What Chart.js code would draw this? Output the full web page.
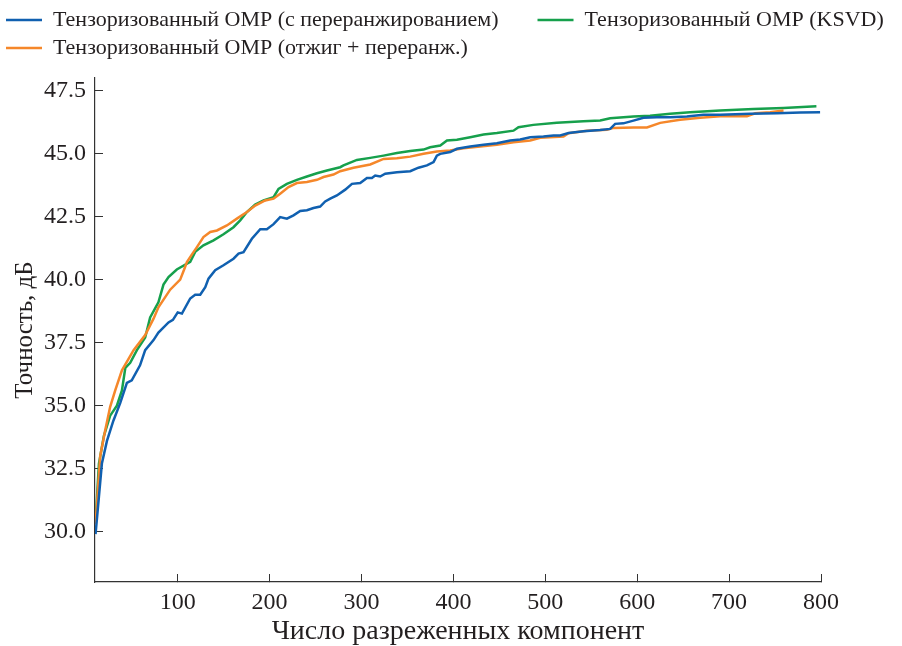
<!DOCTYPE html>
<html>
<head>
<meta charset="utf-8">
<script src="https://cdn.jsdelivr.net/npm/chart.js@4.4.0/dist/chart.umd.min.js"></script>
<style>
  html, body { margin: 0; padding: 0; background: #fff; }
  #wrap { width: 902px; height: 646px; }
</style>
</head>
<body>
<div id="wrap"><canvas id="graph1"></canvas></div>
<script>
// series labels
const seriesNames = [
  'Тензоризованный ОМР (с переранжированием)',
  'Тензоризованный ОМР (отжиг + переранж.)',
  'Тензоризованный ОМР (KSVD)'
];

// values
const rerankX = [10.6, 14.3, 17.5, 23, 30, 37.4, 44.7, 50, 59, 64.6, 73.7, 79, 90, 94.8, 100, 104.6, 113.6, 119, 124.5, 130,
  133.5, 140.8, 149.8, 160.7, 166.2, 171.6, 180.7, 189.8, 197, 204.3, 211.5, 218.8, 226, 233.3, 240.6, 247.8, 255, 260.5, 266,
  273.2, 282.3, 289.6, 298.6, 305.9, 311.3, 314.9, 320.3, 325.8, 338.5, 353, 362, 371.2, 378.4, 382, 385.7, 396.5, 403.8,
  418.3, 432.8, 447.3, 461.8, 472.7, 483.6, 498, 509, 516.2, 525.3, 541.6, 559.7, 570.6, 576, 585, 595.9, 606.8, 621.4,
  635.9, 654, 672, 690.3, 723, 752, 777.7, 799];
const rerankY = [29.9, 31.4, 32.7, 33.6, 34.4, 35.1, 35.9, 36.0, 36.6, 37.2, 37.6, 37.9, 38.3, 38.4, 38.7, 38.65, 39.25, 39.4, 39.4, 39.7,
  40.04, 40.37, 40.57, 40.83, 41.03, 41.09, 41.62, 42.0, 42.0, 42.2, 42.48, 42.42, 42.55, 42.72, 42.75, 42.84, 42.9, 43.1, 43.21,
  43.34, 43.57, 43.8, 43.83, 44.03, 44.03, 44.13, 44.09, 44.2, 44.26, 44.3, 44.44, 44.53, 44.66, 44.92, 44.99, 45.06, 45.19,
  45.28, 45.35, 45.41, 45.52, 45.56, 45.65, 45.68, 45.72, 45.72, 45.82, 45.89, 45.94, 45.98, 46.18, 46.2, 46.31, 46.42, 46.44,
  46.44, 46.47, 46.54, 46.54, 46.58, 46.6, 46.63, 46.64];

const annealX = [10.6, 15.7, 21, 26.5, 32, 39.3, 52, 64.6, 73.7, 79, 91.8, 102.7, 107, 110, 115.5, 120.9, 128, 135.4, 142.7,
  153.5, 164.4, 175.3, 184.3, 195.2, 204.3, 211.5, 220.6, 229.7, 240.6, 251.5, 258.7, 269.5, 276.8, 291.3, 309.5, 324, 338.5,
  353, 367.5, 382, 396.5, 411, 429.2, 447.3, 465.4, 483.6, 494.5, 519.8, 525.3, 545.3, 567, 574.3, 596, 610.6, 625, 646.7,
  668.5, 690.3, 719.4, 728.4, 744.7, 759.2];
const annealY = [30.3, 33.0, 34.0, 34.95, 35.6, 36.4, 37.2, 37.8, 38.45, 38.9, 39.6, 40.0, 40.4, 40.7, 41.0, 41.29, 41.69, 41.89, 41.95,
  42.15, 42.42, 42.68, 42.94, 43.14, 43.21, 43.41, 43.67, 43.83, 43.87, 43.96, 44.07, 44.17, 44.3, 44.44, 44.57, 44.79, 44.82,
  44.88, 44.99, 45.08, 45.12, 45.21, 45.28, 45.35, 45.45, 45.52, 45.63, 45.68, 45.81, 45.91, 45.95, 46.02, 46.04, 46.04, 46.22, 46.34,
  46.42, 46.48, 46.48, 46.6, 46.64, 46.71];

const ksvdX = [10.6, 14.3, 19.7, 26.5, 33.8, 39.3, 43, 48.3, 55.6, 64.6, 70, 79, 84.5, 90, 99, 113.6, 119, 128, 139, 149.8,
  160.7, 168, 175.3, 184.3, 193.4, 204.3, 209.7, 218.8, 229.7, 240.6, 251.5, 262.4, 276.8, 280.4, 295, 309.5, 324, 338.5, 353,
  367.5, 374.7, 385.7, 393, 403.8, 418.3, 432.8, 447.3, 465.4, 470.8, 487, 512.5, 541.5, 559.7, 570.6, 596, 614, 635.9,
  657.6, 690.3, 726.6, 759.2, 795];
const ksvdY = [30.4, 32.7, 33.8, 34.6, 35.0, 35.6, 36.5, 36.7, 37.2, 37.7, 38.5, 39.1, 39.8, 40.1, 40.4, 40.7, 41.1, 41.36, 41.56, 41.8,
  42.08, 42.35, 42.68, 42.98, 43.14, 43.27, 43.6, 43.8, 43.96, 44.09, 44.22, 44.33, 44.46, 44.53, 44.75, 44.83, 44.92, 45.02, 45.1,
  45.16, 45.25, 45.32, 45.52, 45.55, 45.65, 45.76, 45.82, 45.91, 46.05, 46.14, 46.22, 46.28, 46.31, 46.4, 46.47, 46.5, 46.58,
  46.64, 46.71, 46.77, 46.81, 46.88];

// tick labels
const xTicks = [100, 200, 300, 400, 500, 600, 700, 800];
const yTicks = [30.0, 32.5, 35.0, 37.5, 40.0, 42.5, 45.0, 47.5];

const toPoints = (xs, ys) => xs.map((x, i) => ({ x: x, y: ys[i] }));

const serif = '"Liberation Serif", "Times New Roman", serif';
const ink = '#231f20';

// legend is a bit taller in the original (gap under it)
const legendGap = {
  id: 'legendGap',
  beforeUpdate(chart) {
    const lg = chart.legend;
    if (lg && !lg._gapDone) {
      const fit = lg.fit;
      lg.fit = function () { fit.call(this); this.height += 9; };
      lg._gapDone = true;
    }
  }
};

const ctx = document.getElementById('graph1').getContext('2d');

const data = {
  datasets: [
    {
      label: seriesNames[0],
      data: toPoints(rerankX, rerankY),
      borderColor: '#1060b0'
    },
    {
      label: seriesNames[1],
      data: toPoints(annealX, annealY),
      borderColor: '#f5872a'
    },
    {
      label: seriesNames[2],
      data: toPoints(ksvdX, ksvdY),
      borderColor: '#16a04c'
    }
  ]
};
data.datasets.forEach(ds => {
  ds.borderWidth = 2.5;
  ds.pointRadius = 0;
  ds.tension = 0;
  ds.fill = false;
});

// legend fills rows like the original's two columns
const legendOrder = [0, 2, 1];

const options = {
  responsive: true,
  maintainAspectRatio: false,
  animation: false,
  layout: { padding: { left: 0, right: 0, top: 3, bottom: 0 } },
  plugins: {
    tooltip: { enabled: false },
    legend: {
      position: 'top',
      align: 'start',
      labels: {
        usePointStyle: true,
        pointStyle: 'line',
        pointStyleWidth: 36,
        padding: 6,
        color: ink,
        font: { family: serif, size: 22 },
        sort: (a, b) => legendOrder.indexOf(a.datasetIndex) - legendOrder.indexOf(b.datasetIndex),
        generateLabels: chart => {
          const items = Chart.defaults.plugins.legend.labels.generateLabels(chart);
          // wider column gap as in the original
          items[0].text += '\u2003\u2002';
          return items;
        }
      }
    }
  },
  scales: {
    x: {
      type: 'linear',
      min: 10,
      max: 800,
      afterFit: s => { s.height = 64; },
      afterBuildTicks: s => { s.ticks = xTicks.map(v => ({ value: v })); },
      grid: { drawOnChartArea: false, drawTicks: true, tickLength: -8, color: '#333' },
      border: { display: true, color: '#333', width: 1.2 },
      ticks: {
        color: ink,
        padding: 14,
        maxRotation: 0,
        font: { family: serif, size: 24 },
        callback: v => String(v)
      },
      title: {
        display: true,
        text: 'Число разреженных компонент',
        color: ink,
        padding: { top: 0, bottom: 0 },
        font: { family: serif, size: 28, lineHeight: 1 }
      }
    },
    y: {
      min: 28,
      max: 48,
      afterFit: s => { s.width = 95; },
      afterBuildTicks: s => { s.ticks = yTicks.map(v => ({ value: v })); },
      grid: { drawOnChartArea: false, drawTicks: true, tickLength: -8, color: '#333' },
      border: { display: true, color: '#333', width: 1.2 },
      ticks: {
        color: ink,
        padding: 17,
        font: { family: serif, size: 24 },
        callback: v => Number(v).toFixed(1)
      },
      title: {
        display: true,
        text: 'Точность, дБ',
        color: ink,
        padding: { top: 12.5, bottom: 0 },
        font: { family: serif, size: 25, lineHeight: 1 }
      }
    },
    // empty right margin
    spacer: {
      type: 'linear',
      position: 'right',
      afterFit: s => { s.width = 81; },
      ticks: { display: false },
      grid: { display: false },
      border: { display: false }
    }
  }
};

const chart = new Chart(ctx, {
  type: 'line',
  data: data,
  options: options,
  plugins: [legendGap]
});
</script>
</body>
</html>
